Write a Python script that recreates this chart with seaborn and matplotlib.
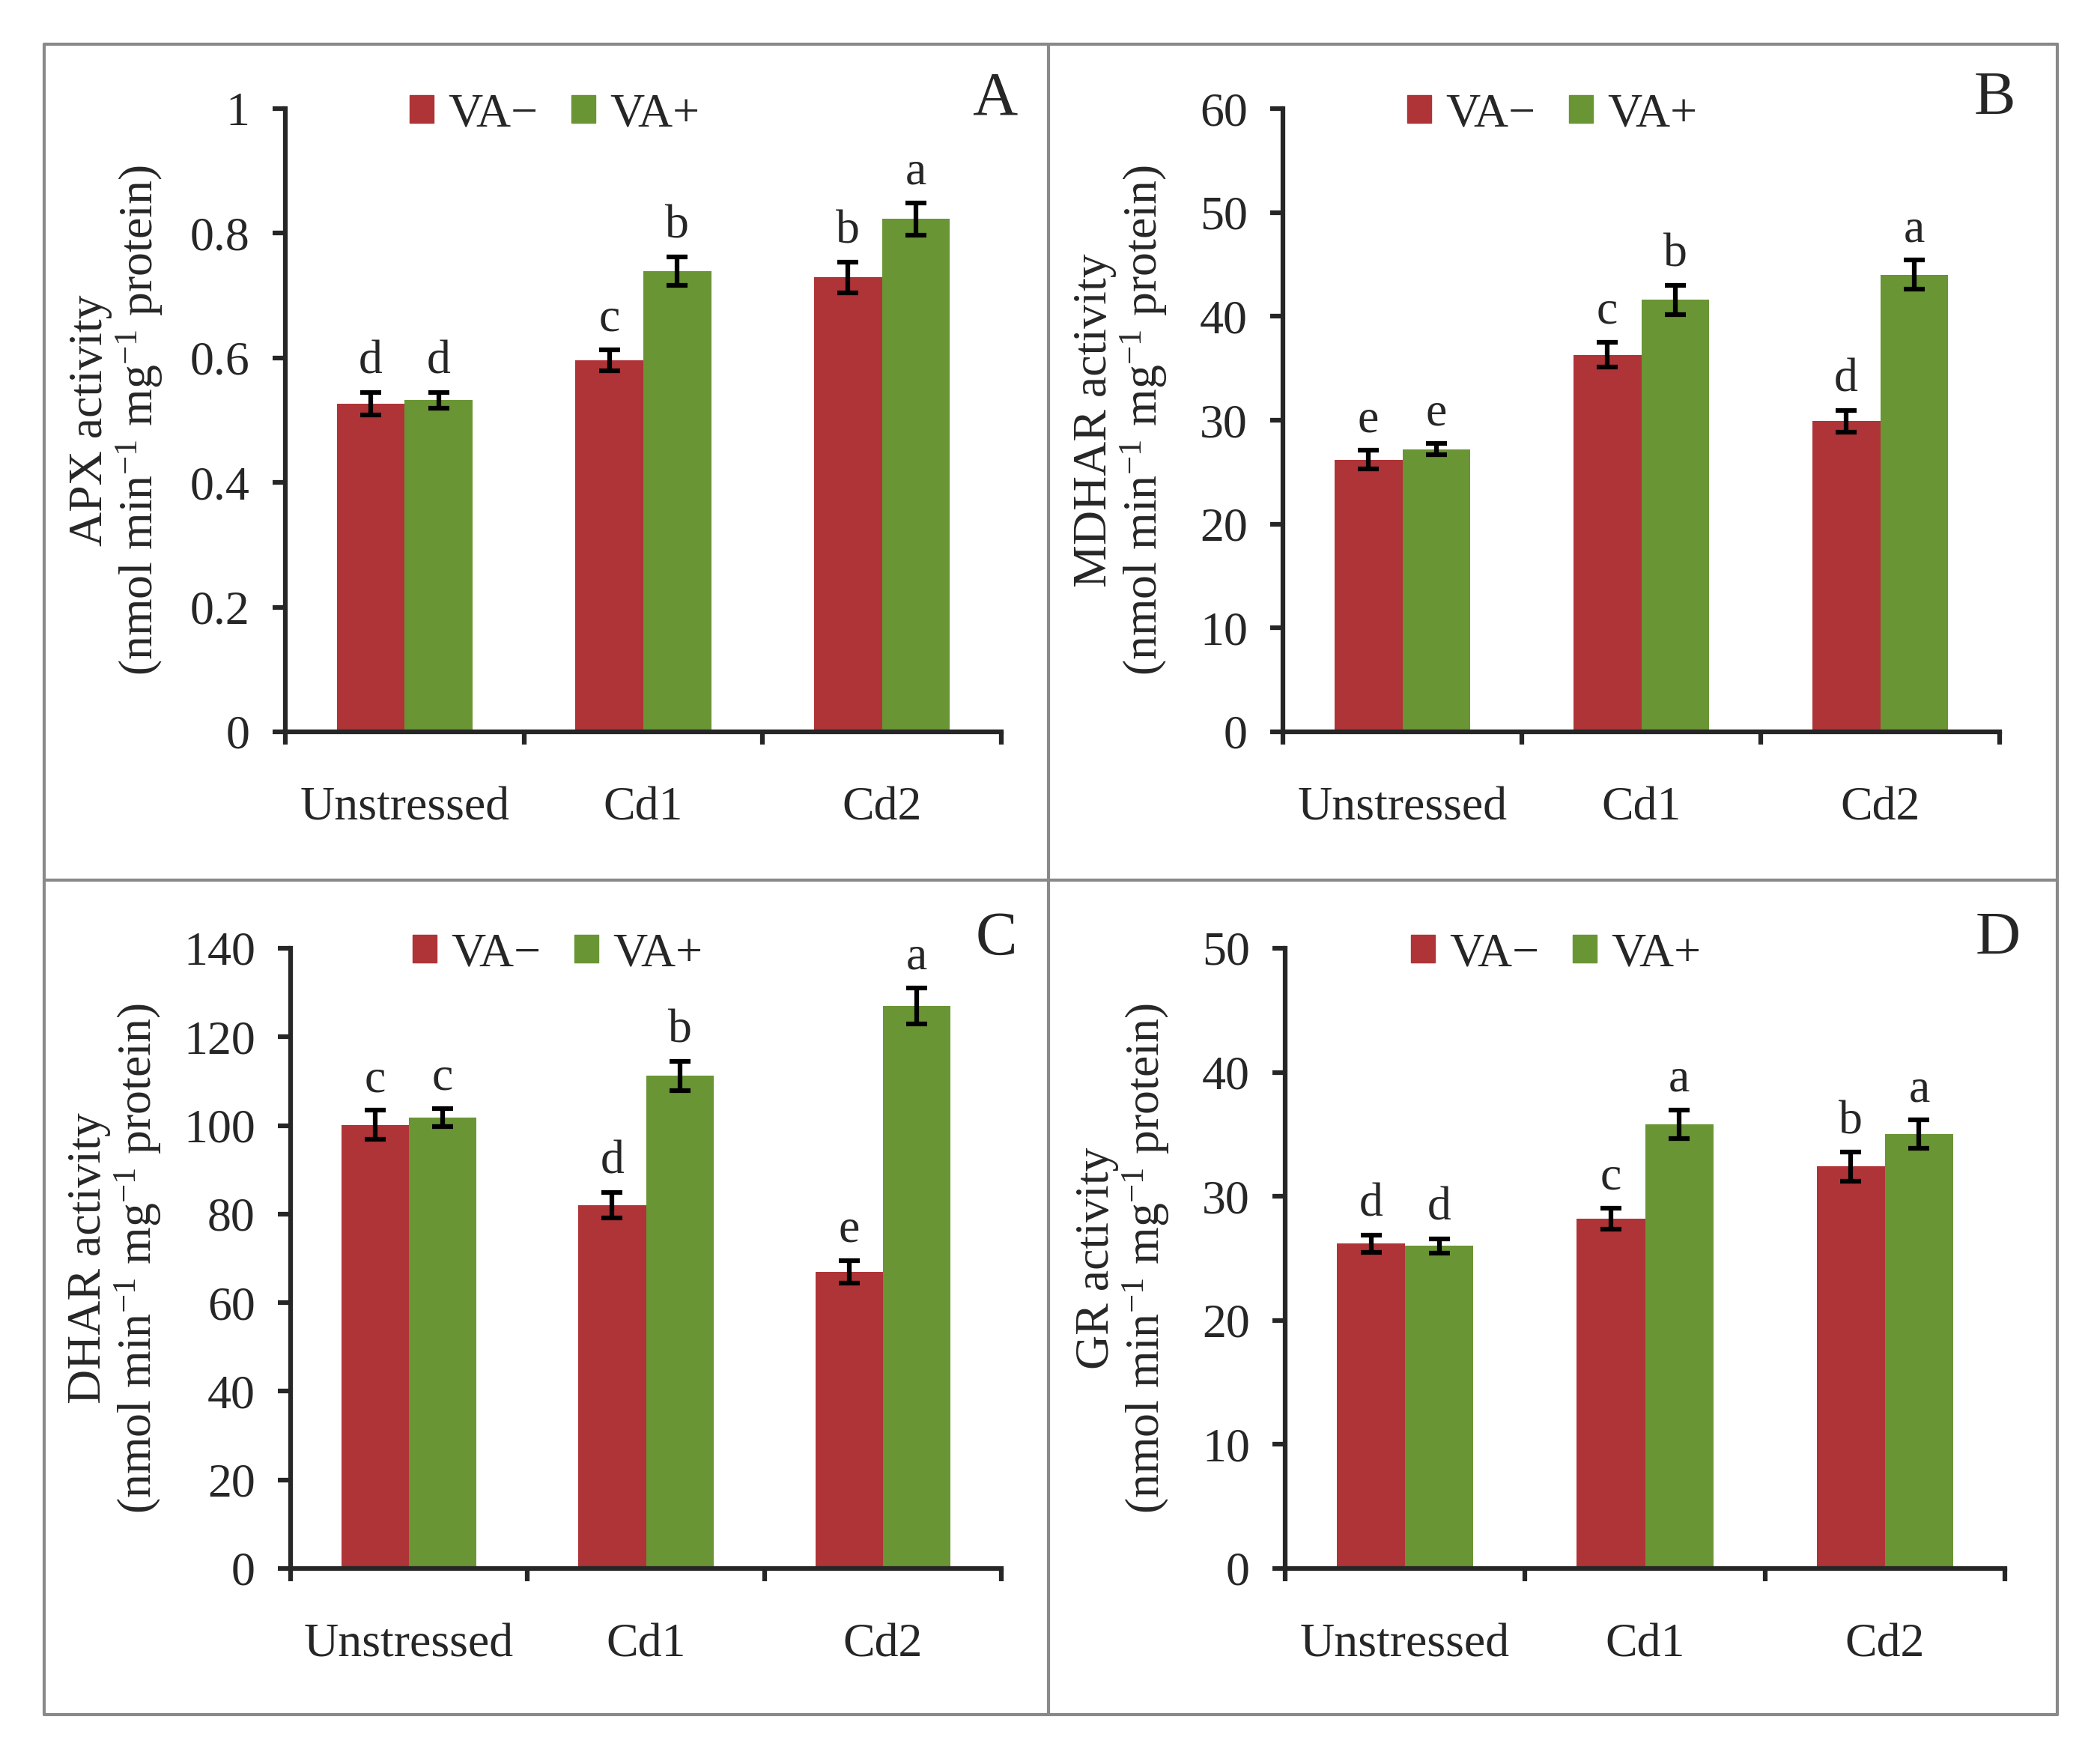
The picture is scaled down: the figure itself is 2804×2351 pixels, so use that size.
import matplotlib.pyplot as plt
import pandas as pd
import seaborn as sns
from matplotlib.lines import Line2D
from matplotlib.ticker import FormatStrFormatter, FixedLocator

sns.set_style('ticks')
plt.rcParams['font.family'] = ['Liberation Serif', 'DejaVu Serif']
plt.rcParams['mathtext.fontset'] = 'custom'
plt.rcParams['mathtext.rm'] = 'Liberation Serif'
plt.rcParams['mathtext.it'] = 'Liberation Serif:italic'

# Data
treatments = ['Unstressed', 'Cd1', 'Cd2']
groups = ['VA\u2212', 'VA+']

apx_minus = [0.527, 0.596, 0.729]
apx_plus = [0.532, 0.739, 0.823]
apx_err_minus = [0.018, 0.017, 0.025]
apx_err_plus = [0.013, 0.023, 0.026]
apx_letters_minus = ['d', 'c', 'b']
apx_letters_plus = ['d', 'b', 'a']

mdhar_minus = [26.2, 36.3, 29.9]
mdhar_plus = [27.2, 41.6, 44.0]
mdhar_err_minus = [0.9, 1.2, 1.05]
mdhar_err_plus = [0.55, 1.4, 1.4]
mdhar_letters_minus = ['e', 'c', 'd']
mdhar_letters_plus = ['e', 'b', 'a']

dhar_minus = [100.1, 82.0, 67.0]
dhar_plus = [101.8, 111.2, 127.0]
dhar_err_minus = [3.3, 2.9, 2.5]
dhar_err_plus = [2.0, 3.3, 4.1]
dhar_letters_minus = ['c', 'd', 'e']
dhar_letters_plus = ['c', 'b', 'a']

gr_minus = [26.2, 28.2, 32.4]
gr_plus = [26.0, 35.8, 35.0]
gr_err_minus = [0.7, 0.85, 1.15]
gr_err_plus = [0.6, 1.15, 1.15]
gr_letters_minus = ['d', 'c', 'b']
gr_letters_plus = ['d', 'a', 'a']

red = '#AF3437'
green = '#6A9534'
FS = 46
LW = 4.5

panels = [
    ('A', 'APX', apx_minus, apx_plus, apx_err_minus, apx_err_plus,
     apx_letters_minus, apx_letters_plus, 1.0, 0.2, '%g',
     [381, 145, 1337, 977], -0.168),
    ('B', 'MDHAR', mdhar_minus, mdhar_plus, mdhar_err_minus, mdhar_err_plus,
     mdhar_letters_minus, mdhar_letters_plus, 60, 10, '%d',
     [1713, 145, 2670, 977], -0.159),
    ('C', 'DHAR', dhar_minus, dhar_plus, dhar_err_minus, dhar_err_plus,
     dhar_letters_minus, dhar_letters_plus, 140, 20, '%d',
     [388, 1266, 1337, 2094], -0.179),
    ('D', 'GR', gr_minus, gr_plus, gr_err_minus, gr_err_plus,
     gr_letters_minus, gr_letters_plus, 50, 10, '%d',
     [1716, 1266, 2677, 2094], -0.158),
]

W, H = 2804, 2351
fig = plt.figure(figsize=(W / 100, H / 100), dpi=100)


def frac_box(box):
    x0, y0, x1, y1 = box
    return [x0 / W, 1 - y1 / H, (x1 - x0) / W, (y1 - y0) / H]


for (letter, name, vm, vp, em, ep, lm, lp, ymax, ystep, fmt, box, lab_x) in panels:
    ax = fig.add_axes(frac_box(box))
    df = pd.DataFrame({
        'treatment': treatments * 2,
        'group': [groups[0]] * 3 + [groups[1]] * 3,
        'value': vm + vp,
    })
    sns.barplot(data=df, x='treatment', y='value', hue='group', order=treatments,
                hue_order=groups, palette=[red, green], errorbar=None,
                width=0.57, gap=0, saturation=1, linewidth=0, ax=ax, legend=False)

    for cont, errs, lets in zip(ax.containers, [em, ep], [lm, lp]):
        xs = [p.get_x() + p.get_width() / 2 for p in cont.patches]
        ys = [p.get_height() for p in cont.patches]
        ax.errorbar(xs, ys, yerr=errs, fmt='none', ecolor='black',
                    elinewidth=LW, capsize=10, capthick=LW, zorder=5)
        for x, y, e, t in zip(xs, ys, errs, lets):
            ax.annotate(t, (x, y + e), xytext=(0, 8), textcoords='offset points',
                        ha='center', va='bottom', fontsize=FS)

    sns.despine(ax=ax)
    ax.spines['left'].set_linewidth(LW)
    ax.spines['bottom'].set_linewidth(LW)
    ax.set_xlim(-0.5, 2.5)
    ax.set_ylim(0, ymax)
    yt = [i * ystep for i in range(int(round(ymax / ystep)) + 1)]
    ax.set_yticks(yt)
    ax.yaxis.set_major_formatter(FormatStrFormatter(fmt))
    ax.tick_params(axis='y', direction='out', length=12, width=LW,
                   labelsize=FS, pad=22)

    ax.xaxis.set_major_locator(FixedLocator([-0.5, 0.5, 1.5, 2.5]))
    ax.xaxis.set_minor_locator(FixedLocator([0, 1, 2]))
    ax.set_xticklabels([], minor=False)
    ax.set_xticklabels(treatments, minor=True)
    ax.tick_params(axis='x', which='major', direction='out', length=12, width=LW)
    ax.tick_params(axis='x', which='minor', length=0, labelsize=FS, pad=53)
    ax.set_xlabel('')

    ax.set_ylabel(name + ' activity\n(nmol min$^{-1}$ mg$^{-1}$ protein)',
                  fontsize=FS, linespacing=1.05)
    ax.yaxis.set_label_coords(lab_x, 0.5)

    handles = [plt.Rectangle((0, 0), 1, 1, color=red),
               plt.Rectangle((0, 0), 1, 1, color=green)]
    ax.legend(handles, groups, loc='center', bbox_to_anchor=(0.376, 0.99),
              ncol=2, frameon=False, fontsize=FS, handlelength=0.5,
              handleheight=0.5, handletextpad=0.3, columnspacing=0.7)

    ax.text(1.022, 1.015, letter, transform=ax.transAxes, fontsize=60,
            ha='right', va='center')

# outer frame and panel dividers
gray = '#898989'
x0, x1, xm = 59 / W, 2747 / W, 1400 / W
y0, y1, ym = 1 - 59 / H, 1 - 2289 / H, 1 - 1175 / H
for xs, ys in [([x0, x1], [y0, y0]), ([x0, x1], [y1, y1]), ([x0, x0], [y0, y1]),
               ([x1, x1], [y0, y1]), ([xm, xm], [y0, y1]), ([x0, x1], [ym, ym])]:
    fig.add_artist(Line2D(xs, ys, color=gray, linewidth=3, transform=fig.transFigure))

fig.savefig('out.png', dpi=100)
